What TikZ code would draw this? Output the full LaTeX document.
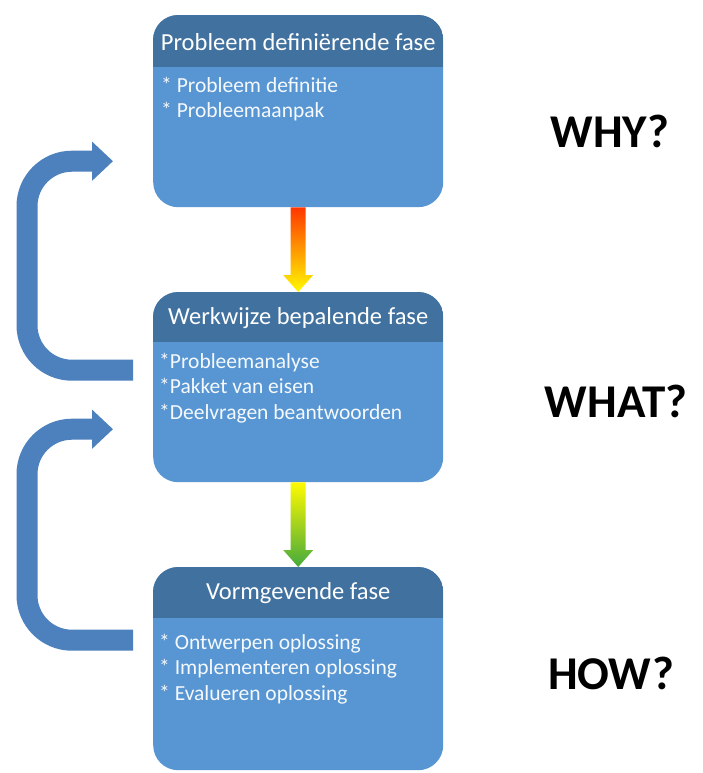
\documentclass[tikz,border=0pt]{standalone}
\usepackage{fontspec}
\setmainfont{Carlito}
\usetikzlibrary{arrows.meta}
\definecolor{hdrblue}{RGB}{65,113,158}
\definecolor{bodyblue}{RGB}{88,150,211}
\definecolor{loopblue}{RGB}{76,129,190}
\definecolor{arrred}{RGB}{255,55,0}
\definecolor{arryellow}{RGB}{255,250,0}
\definecolor{arrgreen}{RGB}{70,170,60}
\tikzset{
  phase/.style={draw=none, fill=bodyblue, rounded corners=25pt,
    minimum width=290pt, anchor=north west, inner sep=0pt},
  hdrtext/.style={text=white, font=\fontsize{24.5}{28}\selectfont, anchor=center},
  bodytext/.style={text=white!94!bodyblue, font=\fontsize{21.5}{25.5}\selectfont,
    align=left, anchor=north west, inner sep=0pt},
  feedback/.style={draw=loopblue, line width=21pt, rounded corners=45pt,
    -{Triangle[length=21pt,width=38pt]}},
  question/.style={font=\fontsize{47}{52}\selectfont\bfseries, text=black}
}
\newcommand{\phaseheader}[2]{%
  \begin{scope}
    \clip[rounded corners=25pt] (#1.north west) rectangle (#1.south east);
    \fill[hdrblue] (#1.north west) rectangle ([yshift=-#2]#1.north east);
  \end{scope}}
\begin{document}
\begin{tikzpicture}[x=1pt,y=-1pt]
\useasboundingbox[fill=white] (0,0) rectangle (703,773);

% phase boxes
\node[phase, minimum height=192pt] (b1) at (153,15) {};
\phaseheader{b1}{52pt}
\node[phase, minimum height=190pt] (b2) at (153,292) {};
\phaseheader{b2}{50pt}
\node[phase, minimum height=203pt] (b3) at (153,567) {};
\phaseheader{b3}{51pt}

% headers
\node[hdrtext] (h1) at ([yshift=-27pt]b1.north) {Probleem definiërende fase};
\node[hdrtext] (h2) at ([yshift=-26pt]b2.north) {Werkwijze bepalende fase};
\node[hdrtext] (h3) at ([yshift=-26pt]b3.north) {Vormgevende fase};

% contents
\node[bodytext] (t1) at ([xshift=8pt,yshift=-62pt]b1.north west)
  {* Probleem definitie\\* Probleemaanpak};
\node[bodytext] (t2) at ([xshift=6pt,yshift=-61pt]b2.north west)
  {*Probleemanalyse\\*Pakket van eisen\\*Deelvragen beantwoorden};
\node[bodytext] (t3) at ([xshift=6pt,yshift=-67pt]b3.north west)
  {* Ontwerpen oplossing\\* Implementeren oplossing\\* Evalueren oplossing};

% downward arrows between phases
\shade[top color=arrred, bottom color=arryellow]
  ([xshift=-7.5pt]b1.south) -- ([xshift=-7.5pt,yshift=17pt]b2.north)
  -- ([xshift=-15pt,yshift=17pt]b2.north) -- (b2.north)
  -- ([xshift=15pt,yshift=17pt]b2.north) -- ([xshift=7.5pt,yshift=17pt]b2.north)
  -- ([xshift=7.5pt]b1.south) -- cycle;
\shade[top color=arryellow, bottom color=arrgreen]
  ([xshift=-7.5pt]b2.south) -- ([xshift=-7.5pt,yshift=17pt]b3.north)
  -- ([xshift=-15pt,yshift=17pt]b3.north) -- (b3.north)
  -- ([xshift=15pt,yshift=17pt]b3.north) -- ([xshift=7.5pt,yshift=17pt]b3.north)
  -- ([xshift=7.5pt]b2.south) -- cycle;

% feedback loops
\coordinate (l1s) at ([xshift=-20pt,yshift=17pt]b2.west);
\coordinate (l1e) at ([xshift=-40pt,yshift=-50pt]b1.west);
\draw[feedback] (l1s) -- (27,0 |- l1s) -- (27,0 |- l1e) -- (l1e);
\coordinate (l2s) at ([xshift=-20pt,yshift=28.5pt]b3.west);
\coordinate (l2e) at ([xshift=-40pt,yshift=-42pt]b2.west);
\draw[feedback] (l2s) -- (27,0 |- l2s) -- (27,0 |- l2e) -- (l2e);

% questions
\node[question] (why) at (610,131) {WHY?};
\node[question] (what) at (616,401) {WHAT?};
\node[question] (how) at (611,673) {HOW?};
\end{tikzpicture}
\end{document}
